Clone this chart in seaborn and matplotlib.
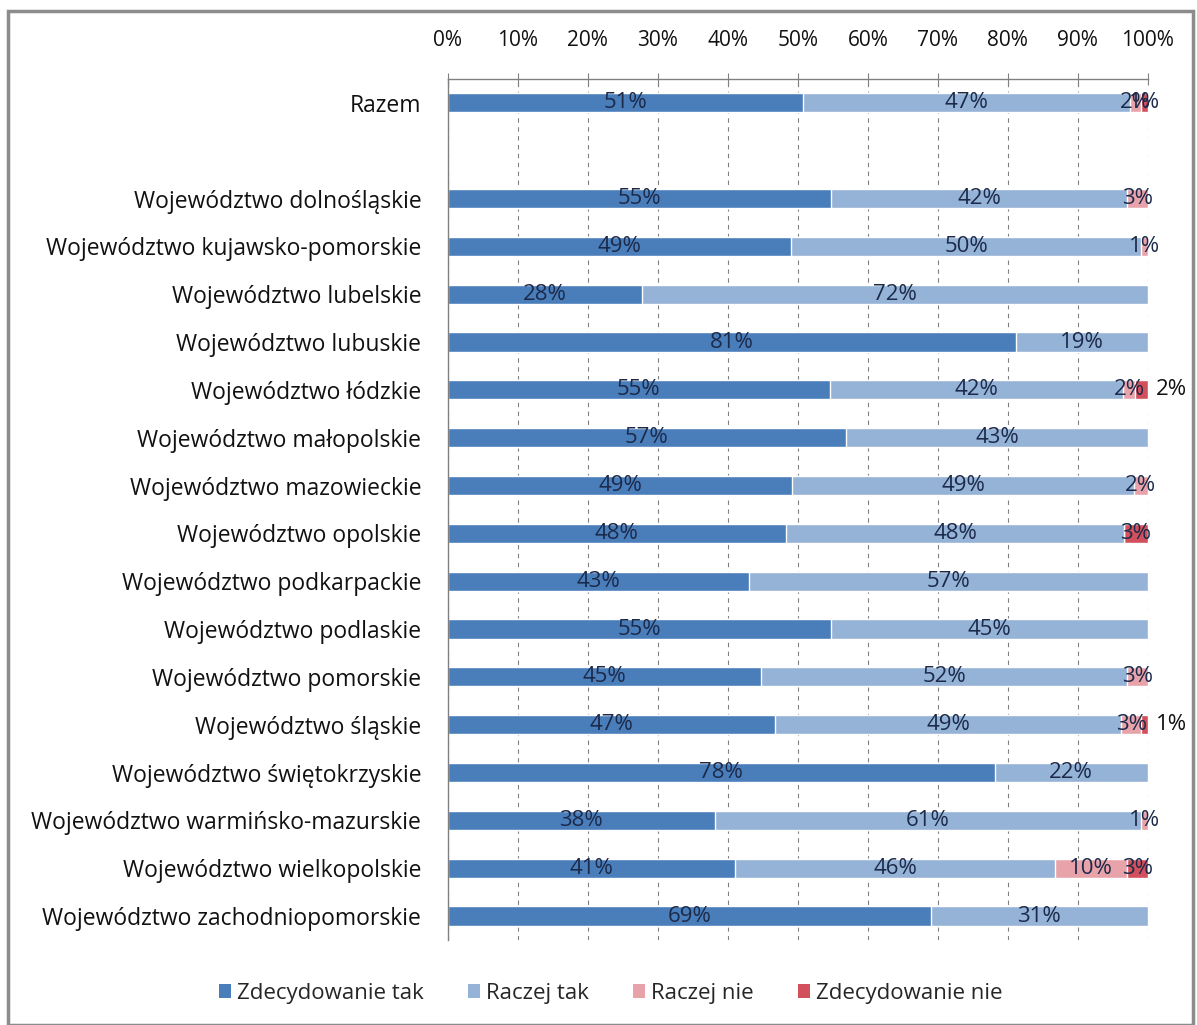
import matplotlib
matplotlib.use("Agg")
import matplotlib.pyplot as plt
import seaborn as sns
import pandas as pd
import numpy as np
from matplotlib.patches import Rectangle, Patch

categories = ["Razem", "",
              "Województwo dolnośląskie", "Województwo kujawsko-pomorskie",
              "Województwo lubelskie", "Województwo lubuskie", "Województwo łódzkie",
              "Województwo małopolskie", "Województwo mazowieckie", "Województwo opolskie",
              "Województwo podkarpackie", "Województwo podlaskie", "Województwo pomorskie",
              "Województwo śląskie", "Województwo świętokrzyskie",
              "Województwo warmińsko-mazurskie", "Województwo wielkopolskie",
              "Województwo zachodniopomorskie"]
zdecydowanie_tak = [50.8, np.nan, 54.8, 49.1, 27.8, 81.2, 54.6, 56.9, 49.2, 48.3, 43.1, 54.7, 44.8, 46.8, 78.1, 38.2, 41.0, 69.0]
raczej_tak      = [46.6, np.nan, 42.2, 49.9, 72.2, 18.8, 41.8, 43.1, 48.8, 48.3, 56.9, 45.3, 52.2, 49.4, 21.9, 60.8, 45.8, 31.0]
raczej_nie      = [1.6, np.nan, 3.0, 1.0, 0, 0, 1.8, 0, 2.0, 0, 0, 0, 3.0, 2.8, 0, 1.0, 10.2, 0]
zdecydowanie_nie = [1.0, np.nan, 0, 0, 0, 0, 1.8, 0, 0, 3.4, 0, 0, 0, 1.0, 0, 0, 3.0, 0]
series_names = ["Zdecydowanie tak", "Raczej tak", "Raczej nie", "Zdecydowanie nie"]
x_ticks = [0, 10, 20, 30, 40, 50, 60, 70, 80, 90, 100]
outside_last = ["Województwo łódzkie", "Województwo śląskie"]

colors = ["#4a7ebb", "#95b3d7", "#e8a3aa", "#d2505c"]

sns.set_style("white")
plt.rcParams['font.family'] = ['Open Sans', 'DejaVu Sans']

fig = plt.figure(figsize=(11.97, 10.25), dpi=100)
ax = fig.add_axes([0.374, 0.083, 0.585, 0.840])

series = [zdecydowanie_tak, raczej_tak, raczej_nie, zdecydowanie_nie]
arr = np.array(series, dtype=float)
cum = np.nancumsum(arr, axis=0)
cum[:, 1] = np.nan

# draw from the largest cumulative layer to the smallest
for i in range(3, -1, -1):
    df = pd.DataFrame({"cat": categories, "val": cum[i]})
    sns.barplot(data=df, x="val", y="cat", order=categories, color=colors[i],
                orient="h", width=0.4, ax=ax, saturation=1, errorbar=None)

label_color = "#1c2a4a"
for r, cat in enumerate(categories):
    left = 0.0
    for i in range(4):
        v = arr[i, r]
        if np.isnan(v) or v <= 0:
            continue
        txt = f"{int(round(v))}%"
        if i == 3 and cat in outside_last:
            ax.text(101.2, r, txt, ha="left", va="center", fontsize=16, color="#111111")
        else:
            ax.text(left + v / 2, r, txt, ha="center", va="center", fontsize=16, color=label_color)
        left += v

ax.set_xlim(0, 100)
ax.set_ylim(len(categories) - 0.5, -0.5)
ax.set_xticks(x_ticks)
ax.set_xticklabels([f"{t}%" for t in x_ticks], fontsize=15, color="#111111")
ax.xaxis.tick_top()
ax.tick_params(axis="x", which="major", direction="inout", length=8, color="#808080", pad=16)
ax.set_xlabel("")
ax.set_ylabel("")
ax.set_yticks(range(len(categories)))
ax.set_yticklabels(categories, fontsize=16.5, color="#111111")
ax.tick_params(axis="y", which="major", length=0, pad=19)
ax.set_yticks(np.arange(-0.5, len(categories), 1.0), minor=True)
ax.tick_params(axis="y", which="minor", direction="out", length=6, color="#808080")
ax.grid(axis="x", linestyle=(0, (4, 4)), color="#808080", linewidth=0.8)
ax.set_axisbelow(True)
for s in ["right", "bottom"]:
    ax.spines[s].set_visible(False)
for s in ["left", "top"]:
    ax.spines[s].set_color("#808080")
    ax.spines[s].set_linewidth(1.0)

handles = [Patch(facecolor=c, edgecolor="none") for c in colors]
fig.legend(handles, series_names, loc="center", bbox_to_anchor=(0.51, 0.031), ncol=4,
           frameon=False, fontsize=16, handlelength=0.55, handleheight=0.55,
           handletextpad=0.25, columnspacing=2.0)

fig.patches.append(Rectangle((0.007, 0.0), 0.99, 0.989, transform=fig.transFigure,
                             fill=False, edgecolor="#8c8c8c", linewidth=2.5))

fig.savefig("out.png", dpi=100, facecolor="white")
